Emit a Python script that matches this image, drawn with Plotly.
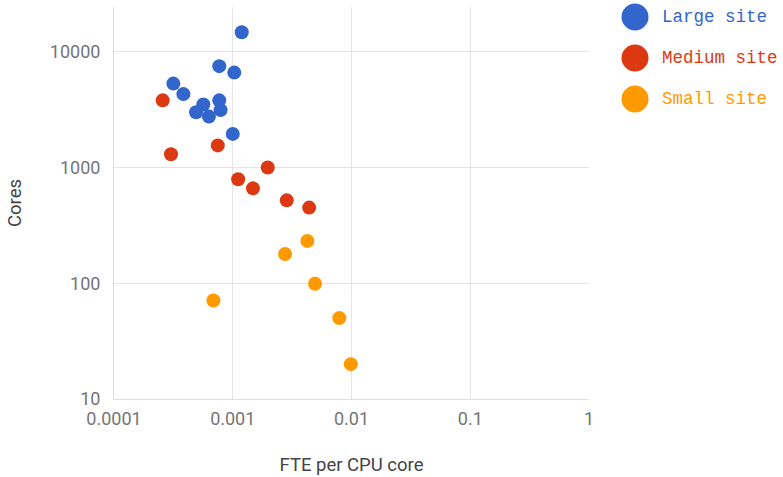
import plotly.graph_objects as go

# ---- data ----
series_names = ["Large site", "Medium site", "Small site"]
series_colors = ["#3366cc", "#dc3912", "#ff9900"]

large_fte = [0.00119, 0.00077, 0.00103, 0.000316, 0.000384, 0.00077, 0.000565, 0.000491, 0.00079, 0.00063, 0.00100]
large_cores = [14700, 7500, 6600, 5300, 4300, 3800, 3500, 3000, 3130, 2750, 1950]

medium_fte = [0.000257, 0.000748, 0.000302, 0.00197, 0.00111, 0.00148, 0.00285, 0.0044]
medium_cores = [3800, 1550, 1300, 1000, 790, 660, 520, 450]

small_fte = [0.00425, 0.00276, 0.00493, 0.000687, 0.0079, 0.00987]
small_cores = [232, 179, 99, 71, 50, 20]

x_ticks = [0.0001, 0.001, 0.01, 0.1, 1]
x_tick_text = ["0.0001", "0.001", "0.01", "0.1", "1"]
y_ticks = [10, 100, 1000, 10000]
y_tick_text = ["10", "100", "1000", "10000"]

xs = [large_fte, medium_fte, small_fte]
ys = [large_cores, medium_cores, small_cores]

fig = go.Figure()
for name, color, x, y in zip(series_names, series_colors, xs, ys):
    fig.add_trace(go.Scatter(
        x=x, y=y, mode="markers", name=name,
        marker=dict(color=color, size=14, line=dict(width=0)),
        showlegend=False,
    ))

W, H = 783, 477
L, R, T, B = 114, 194, 7, 78
PW, PH = W - L - R, H - T - B

def px_x(px):
    return (px - L) / PW

def px_y(py):
    return (H - B - py) / PH

# custom legend (large circles + monospace coloured text)
legend_y_px = [17, 58, 99]
for name, color, ypx in zip(series_names, series_colors, legend_y_px):
    cx, r = 635, 13.5
    fig.add_shape(type="circle", xref="paper", yref="paper",
                  x0=px_x(cx - r), x1=px_x(cx + r),
                  y0=px_y(ypx + r), y1=px_y(ypx - r),
                  fillcolor=color, line=dict(width=0), layer="above")
    fig.add_annotation(text=name, xref="paper", yref="paper",
                       x=px_x(660), y=px_y(ypx),
                       xanchor="left", yanchor="middle", showarrow=False,
                       font=dict(family="Liberation Mono", size=17.5, color=color))

fig.update_layout(
    width=W, height=H,
    margin=dict(l=L, r=R, t=T, b=B, autoexpand=False),
    paper_bgcolor="white", plot_bgcolor="white",
    font=dict(family="Roboto", color="#757575"),
    showlegend=False,
)
fig.update_xaxes(
    type="log", range=[-4, 0],
    tickvals=x_ticks, ticktext=x_tick_text,
    tickfont=dict(size=18, color="#757575", family="Roboto"),
    showgrid=True, gridcolor="#e4e4e4", gridwidth=1,
    showline=True, linecolor="#e0e0e0", linewidth=1,
    zeroline=False, ticks="", ticklabelstandoff=3,
    title=dict(text="FTE per CPU core", font=dict(size=18.5, color="#444444", family="Roboto"), standoff=30),
    automargin=False,
)
fig.update_yaxes(
    type="log", range=[1, 4.386],
    tickvals=y_ticks, ticktext=y_tick_text,
    tickfont=dict(size=18, color="#757575", family="Roboto"),
    showgrid=True, gridcolor="#e4e4e4", gridwidth=1,
    showline=True, linecolor="#e0e0e0", linewidth=1,
    zeroline=False, ticks="", ticklabelstandoff=9,
    title=dict(text="Cores", font=dict(size=18.5, color="#444444", family="Roboto"), standoff=23),
    automargin=False,
)

fig.write_html("out.html")
